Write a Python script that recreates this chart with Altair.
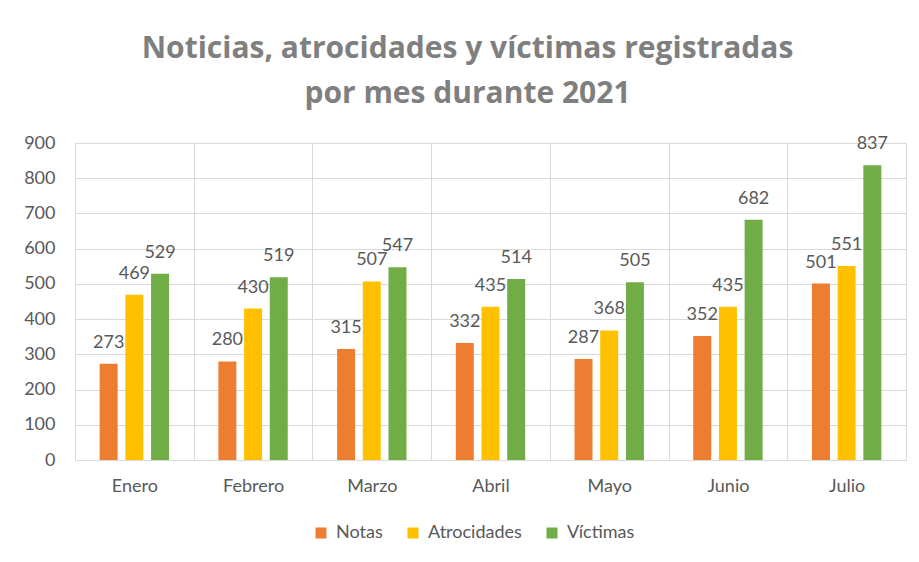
import altair as alt
import pandas as pd

meses = ["Enero", "Febrero", "Marzo", "Abril", "Mayo", "Junio", "Julio"]
series = ["Notas", "Atrocidades", "Víctimas"]
notas = [273, 280, 315, 332, 287, 352, 501]
atrocidades = [469, 430, 507, 435, 368, 435, 551]
victimas = [529, 519, 547, 514, 505, 682, 837]
colores = ["#ED7D31", "#FFC000", "#70AD47"]
y_ticks = [0, 100, 200, 300, 400, 500, 600, 700, 800, 900]

rows = []
for i, m in enumerate(meses):
    for s, vals in zip(series, [notas, atrocidades, victimas]):
        rows.append({"Mes": m, "Serie": s, "Valor": vals[i]})
df = pd.DataFrame(rows)

FONT = "Lato"
TXT = "#595959"
GRID = "#D9D9D9"

base = alt.Chart(df).encode(
    x=alt.X(
        "Mes:N",
        sort=meses,
        scale=alt.Scale(paddingInner=0, paddingOuter=0),
        axis=alt.Axis(
            title=None,
            labelAngle=0,
            grid=True,
            tickBand="extent",
            ticks=False,
            domainColor=GRID,
            gridColor=GRID,
            labelFontSize=18,
            labelColor=TXT,
            labelFont=FONT,
            labelPadding=17,
        ),
    ),
    xOffset=alt.XOffset(
        "Serie:N", sort=series, scale=alt.Scale(paddingInner=0.3, paddingOuter=0.96)
    ),
    y=alt.Y(
        "Valor:Q",
        scale=alt.Scale(domain=[0, 900], nice=False),
        axis=alt.Axis(
            title=None,
            values=y_ticks,
            domain=False,
            ticks=False,
            gridColor=GRID,
            labelFontSize=18,
            labelColor=TXT,
            labelFont=FONT,
            labelPadding=20,
        ),
    ),
)

bars = base.mark_bar().encode(
    color=alt.Color(
        "Serie:N",
        sort=series,
        scale=alt.Scale(domain=series, range=colores),
        legend=alt.Legend(
            title=None,
            orient="none",
            direction="horizontal",
            legendX=237,
            legendY=381,
            symbolType="square",
            symbolSize=121,
            symbolStrokeWidth=0,
            labelFontSize=18,
            labelColor=TXT,
            labelFont=FONT,
            labelOffset=6,
            columnPadding=21,
        ),
    )
)

labels = base.mark_text(
    dy=-16, baseline="alphabetic", fontSize=18, color=TXT, font=FONT
).encode(text="Valor:Q")

chart = (
    alt.layer(bars, labels)
    .properties(
        width=831,
        height=317,
        autosize="none",
        padding={"left": 75, "top": 143, "right": 13, "bottom": 102},
        title=alt.TitleParams(
            text=["Noticias, atrocidades y víctimas registradas", "por mes durante 2021"],
            font="Open Sans",
            fontSize=30,
            fontWeight="bold",
            color="#7F7F7F",
            lineHeight=45,
            anchor="middle",
            dx=-23,
            offset=25,
        ),
    )
    .configure_view(fill="#F2F2F2", stroke=GRID)
    .configure(background="white")
)

chart.save("out.html", embed_options={"renderer": "svg", "actions": False})
